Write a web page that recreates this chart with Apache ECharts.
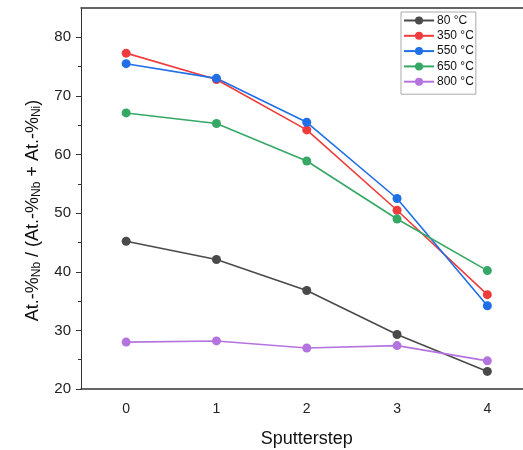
<!DOCTYPE html>
<html>
<head>
<meta charset="utf-8">
<script src="https://cdn.jsdelivr.net/npm/echarts@6/dist/echarts.min.js"></script>
<style>html,body{margin:0;padding:0;background:#fff}#c{width:523px;height:450px}</style>
</head>
<body>
<div id="c"></div>
<script>
const categories = ['0', '1', '2', '3', '4'];
const s80 = [45.2, 42.1, 36.8, 29.3, 23.0];
const s350 = [77.3, 72.8, 64.2, 50.5, 36.1];
const s550 = [75.5, 73.0, 65.5, 52.5, 34.2];
const s650 = [67.1, 65.3, 58.9, 49.0, 40.2];
const s800 = [28.0, 28.2, 27.0, 27.4, 24.8];
const seriesNames = ['80 °C', '350 °C', '550 °C', '650 °C', '800 °C'];
const seriesColors = ['#4a4a4a', '#ee3b3b', '#1f6fe6', '#36a866', '#b474e0'];
const yMajor = [20, 30, 40, 50, 60, 70, 80];
const yMinor = [25, 35, 45, 55, 65, 75];

const chart = echarts.init(document.getElementById('c'));
const font = 'Liberation Sans, Arial, sans-serif';
const data = [s80, s350, s550, s650, s800];
chart.setOption({
  animation: false,
  textStyle: { fontFamily: font },
  grid: { left: 81, top: 8, bottom: 61, right: -9.5, containLabel: false, outerBoundsMode: 'none' },
  legend: {
    orient: 'vertical', left: 401, top: 12,
    itemWidth: 30, itemHeight: 10, itemGap: 2.3,
    padding: [2, 2, 6, 2],
    borderColor: '#aaa', borderWidth: 1,
    textStyle: { fontSize: 12, color: '#111', lineHeight: 13, padding: [0, 0, 0, -2] },
    data: seriesNames
  },
  xAxis: [{
    type: 'category', data: categories, boundaryGap: true,
    name: 'Sputterstep', nameLocation: 'middle', nameGap: 41,
    nameTextStyle: { fontSize: 18, color: '#111' },
    axisLine: { lineStyle: { color: '#333', width: 1.5 } },
    axisTick: { alignWithLabel: true, inside: false, length: 5, lineStyle: { color: '#333' } },
    axisLabel: { fontSize: 14, color: '#222', margin: 13 },
    splitLine: { show: false }
  }, {
    type: 'category', data: categories, position: 'top',
    axisLine: { lineStyle: { color: '#333', width: 1.5 } },
    axisTick: { show: false }, axisLabel: { show: false }
  }],
  yAxis: [{
    type: 'value', min: 20, max: 85, interval: 10,
    name: 'At.-%{sub|Nb} / (At.-%{sub|Nb} + At.-%{sub|Ni})',
    nameLocation: 'middle', nameGap: 38, nameRotate: 90,
    nameTextStyle: { fontSize: 18, color: '#111', padding: [0, 24, 0, 0], rich: { sub: { fontSize: 12, color: '#111', verticalAlign: 'bottom', padding: [8, 0, 0, 0] } } },
    axisLine: { show: true, lineStyle: { color: '#333', width: 1 } },
    axisTick: { show: true, length: 5, customValues: yMajor, lineStyle: { color: '#333' } },
    axisLabel: { fontSize: 15, color: '#222', margin: 10, customValues: yMajor },
    splitLine: { show: false }
  }, {
    type: 'value', min: 20, max: 85, interval: 10, position: 'left',
    axisLine: { show: false },
    axisTick: { show: true, length: 3, customValues: yMinor, lineStyle: { color: '#333' } },
    axisLabel: { show: false }, splitLine: { show: false }
  }],
  series: data.map((d, i) => ({
    name: seriesNames[i], type: 'line', data: d,
    symbol: 'circle', symbolSize: 9,
    itemStyle: { color: seriesColors[i] },
    lineStyle: { color: seriesColors[i], width: 1.6 }
  }))
});
</script>
</body>
</html>
